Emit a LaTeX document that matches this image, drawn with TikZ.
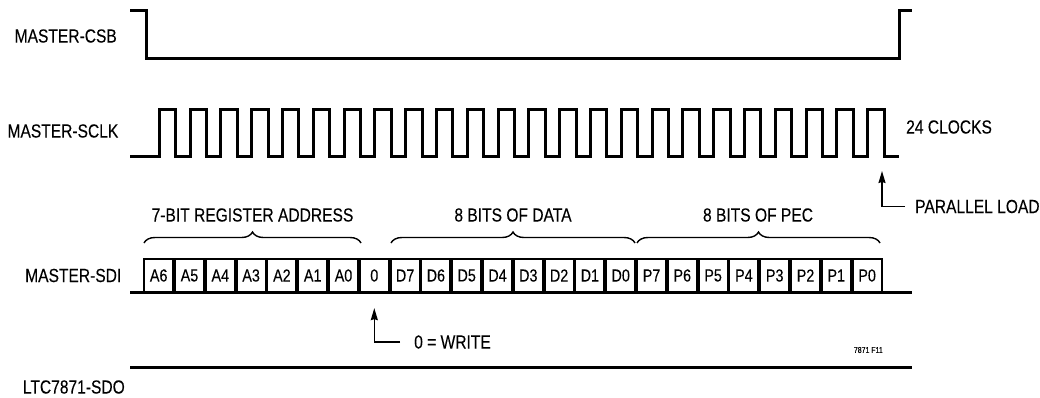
\documentclass[tikz,border=0pt]{standalone}
\usepackage{fontspec}
\setmainfont{Liberation Sans}[FakeStretch=0.82,FakeBold=0.15]
\usetikzlibrary{arrows.meta,decorations.pathreplacing}
\begin{document}
\begin{tikzpicture}[x=1pt,y=-1pt,
  sig/.style={line width=3pt,line join=miter,line cap=butt},
  lbl/.style={inner sep=0pt,font=\fontsize{19}{21}\selectfont},
  small/.style={inner sep=0pt,font=\fontsize{8.5}{9}\selectfont},
  cellbox/.style={draw,line width=2.3pt,inner sep=0pt,minimum width=29.3pt,minimum height=33pt,font=\fontsize{17.5}{19}\selectfont},
  brc/.style={decorate,decoration={brace,amplitude=11pt},line width=1.4pt},
  ptr/.style={line width=1.3pt,-{Stealth[length=12pt,width=7pt,inset=1pt]}}]
\useasboundingbox (0,0) rectangle (1040,397);
% labels
\node[lbl,anchor=east] (csbl) at (117,36) {MASTER-CSB};
\node[lbl,anchor=east] (sclkl) at (118.5,131) {MASTER-SCLK};
\node[lbl,anchor=east] (sdil) at (121.5,275.5) {MASTER-SDI};
\node[lbl,anchor=east] (sdol) at (125,387) {LTC7871-SDO};
% CSB
\draw[sig] (130,10) -- (146,10) -- (146,58) -- (899,58) -- (899,10) -- (912,10);
% SCLK
\draw[sig] (130,156) foreach \k in {0,...,23} { -- ({159.3+30.8*\k},156) -- ({159.3+30.8*\k},109) -- ({175.7+30.8*\k},109) -- ({175.7+30.8*\k},156) } -- (899,156);
\node[lbl,anchor=west] (clk) at (906,127) {24 CLOCKS};
% SDI
\draw[sig] (130,292) -- (912,292);
\foreach \t [count=\i from 0] in {A6,A5,A4,A3,A2,A1,A0,0,D7,D6,D5,D4,D3,D2,D1,D0,P7,P6,P5,P4,P3,P2,P1,P0}{
  \node[cellbox] (c\i) at ({158.7+30.8*\i},275.5) {\t};
}
% braces
\draw[brc] (144,243) -- (361,243);
\draw[brc] (391,243) -- (635,243);
\draw[brc] (637,243) -- (880,243);
\node[lbl] (addr) at (252.5,215) {7-BIT REGISTER ADDRESS};
\node[lbl] (data) at (513,215) {8 BITS OF DATA};
\node[lbl] (pec) at (758,215) {8 BITS OF PEC};
% arrows
\node[lbl,anchor=west] (wrt) at (414,342) {0 = WRITE};
\draw[ptr] ([xshift=-14pt]wrt.west) -| ([yshift=-15pt]c7.south);
\node[lbl,anchor=west] (plt) at (915,206.5) {PARALLEL LOAD};
\coordinate (pl) at (882,171);
\draw[ptr] ([xshift=-10pt]plt.west) -| (pl);
% SDO
\draw[sig] (130,367) -- (912,367);
\node[small,anchor=east] (fig) at (883,350) {7871 F11};
\end{tikzpicture}
\end{document}
